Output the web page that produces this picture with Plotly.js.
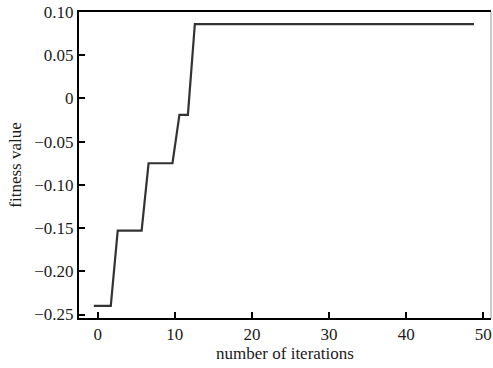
<!DOCTYPE html>
<html>
<head>
<meta charset="utf-8">
<script src="https://cdn.plot.ly/plotly-3.0.1.min.js"></script>
<style>html,body{margin:0;padding:0;background:#fff;}#chart{width:493px;height:368px;}</style>
</head>
<body>
<div id="chart"></div>
<script>
// step breakpoints (iteration, fitness value)
const iterations = [-0.5, 1.7, 2.6, 5.7, 6.6, 9.7, 10.6, 11.7, 12.6, 48.8];
const fitness = [-0.240, -0.240, -0.153, -0.153, -0.075, -0.075, -0.019, -0.019, 0.086, 0.086];
const yTickVals = [0.10, 0.05, 0, -0.05, -0.10, -0.15, -0.20, -0.25];
const yTickText = ['0.10', '0.05', '0', '\u22120.05', '\u22120.10', '\u22120.15', '\u22120.20', '\u22120.25'];
const xTickVals = [0, 10, 20, 30, 40, 50];

const font = {family: '"Liberation Serif", "Times New Roman", serif', size: 17, color: '#1a1a1a'};

Plotly.newPlot('chart', [{
  x: iterations, y: fitness, type: 'scatter', mode: 'lines',
  line: {color: '#333333', width: 2.2},
  hoverinfo: 'skip'
}], {
  width: 493, height: 368,
  margin: {l: 79, r: 2, t: 12, b: 50},
  paper_bgcolor: '#fff', plot_bgcolor: '#fff',
  showlegend: false,
  font: font,
  xaxis: {
    range: [-2.42, 51.0], tickvals: xTickVals, ticks: 'inside', ticklen: 6, tickwidth: 2, tickcolor: '#000',
    showline: true, linecolor: '#000', linewidth: 2, mirror: true, showgrid: false, zeroline: false,
    tickfont: font, title: {text: 'number of iterations', font: font, standoff: 0}
  },
  yaxis: {
    range: [-0.254, 0.10], tickvals: yTickVals, ticktext: yTickText, ticks: 'inside', ticklen: 6, tickwidth: 2, tickcolor: '#000',
    showline: true, linecolor: '#000', linewidth: 2, showgrid: false, zeroline: false,
    tickfont: font, title: {text: 'fitness value', font: font, standoff: 8}
  },
  shapes: [{type: 'line', xref: 'paper', yref: 'paper', x0: 1, x1: 1, y0: 0, y1: 1, line: {color: '#999', width: 1}}]
}, {staticPlot: true});
</script>
</body>
</html>
